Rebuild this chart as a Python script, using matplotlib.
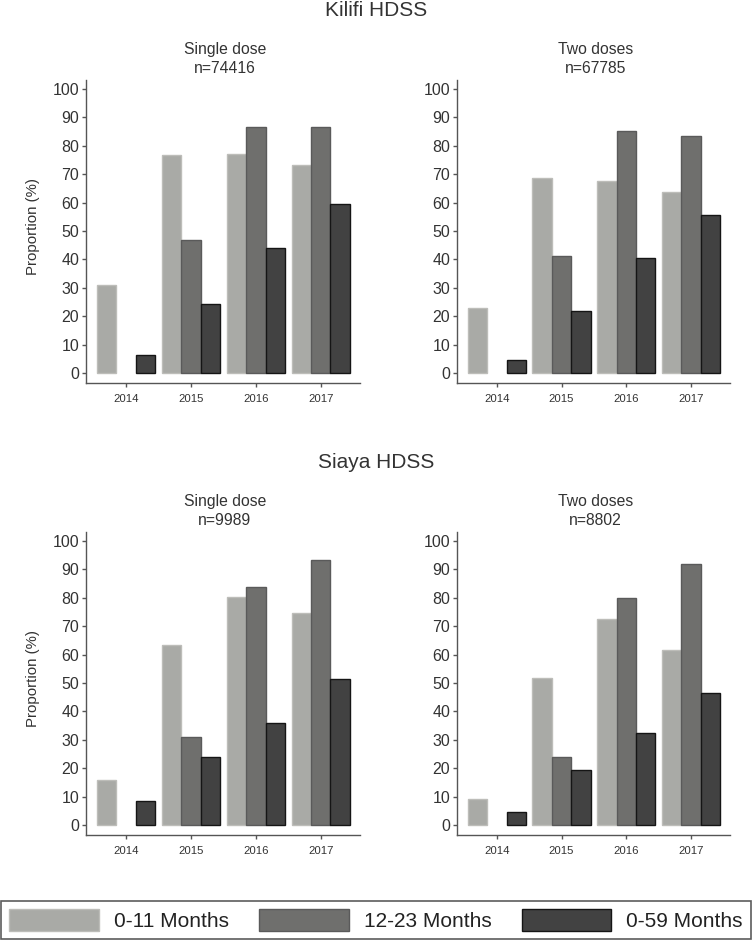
import matplotlib
matplotlib.use("Agg")
import matplotlib.pyplot as plt
import numpy as np
from matplotlib.patches import Patch

plt.rcParams['font.family'] = ['Liberation Sans', 'DejaVu Sans']

years = ["2014", "2015", "2016", "2017"]
groups = ["0-11 Months", "12-23 Months", "0-59 Months"]

# Kilifi HDSS
kilifi_single_0_11 = [31.1, 76.9, 77.3, 73.4]
kilifi_single_12_23 = [np.nan, 46.8, 86.6, 86.5]
kilifi_single_0_59 = [6.3, 24.4, 43.9, 59.7]

kilifi_two_0_11 = [23.0, 68.7, 67.6, 63.7]
kilifi_two_12_23 = [np.nan, 41.3, 85.4, 83.6]
kilifi_two_0_59 = [4.7, 21.7, 40.4, 55.8]

# Siaya HDSS
siaya_single_0_11 = [15.9, 63.5, 80.4, 74.7]
siaya_single_12_23 = [np.nan, 31.0, 84.0, 93.4]
siaya_single_0_59 = [8.4, 23.9, 35.8, 51.5]

siaya_two_0_11 = [9.1, 51.9, 72.4, 61.6]
siaya_two_12_23 = [np.nan, 24.1, 80.0, 92.0]
siaya_two_0_59 = [4.6, 19.3, 32.3, 46.5]

site_titles = ["Kilifi HDSS", "Siaya HDSS"]
panel_titles = ["Single dose\nn=74416", "Two doses\nn=67785",
                "Single dose\nn=9989", "Two doses\nn=8802"]
yticks = [0, 10, 20, 30, 40, 50, 60, 70, 80, 90, 100]

panels = [
    (kilifi_single_0_11, kilifi_single_12_23, kilifi_single_0_59),
    (kilifi_two_0_11, kilifi_two_12_23, kilifi_two_0_59),
    (siaya_single_0_11, siaya_single_12_23, siaya_single_0_59),
    (siaya_two_0_11, siaya_two_12_23, siaya_two_0_59),
]

face = ["#a9aaa6", "#6f6f6d", "#424242"]
edge = ["#bdbdb9", "#5a5a5a", "#151515"]
txt = "#333333"
spine_c = "#555555"

W, H = 752, 946
fig = plt.figure(figsize=(W / 100, H / 100), dpi=100)

def px_axes(x0, y0, x1, y1):
    return fig.add_axes([x0 / W, 1 - y1 / H, (x1 - x0) / W, (y1 - y0) / H])

boxes = [(86, 80, 360, 383), (457, 80, 730, 383),
         (86, 532, 360, 835), (457, 532, 730, 835)]

x = np.arange(len(years))
bw = 0.3
for i, (box, data) in enumerate(zip(boxes, panels)):
    ax = px_axes(*box)
    for k, vals in enumerate(data):
        ax.bar(x + (k - 1) * bw, vals, width=bw, color=face[k],
               edgecolor=edge[k], linewidth=1.0, label=groups[k])
    ax.set_xlim(-0.617, 3.605)
    ax.set_ylim(-3.5, 103.2)
    ax.set_yticks(yticks)
    ax.set_xticks(x)
    ax.set_xticklabels(years)
    ax.tick_params(axis='y', labelsize=11.5, colors=spine_c, labelcolor=txt,
                   length=3, width=1, pad=2)
    ax.tick_params(axis='x', labelsize=8.2, colors=spine_c, labelcolor=txt,
                   length=3, width=1, pad=5)
    for s in ['top', 'right']:
        ax.spines[s].set_visible(False)
    for s in ['left', 'bottom']:
        ax.spines[s].set_color(spine_c)
        ax.spines[s].set_linewidth(1.0)
    cx = (box[0] + box[2]) / 2 + 2
    fig.text(cx / W, 1 - (box[1] - 21) / H, panel_titles[i], ha='center',
             va='center', fontsize=11.3, color=txt, linespacing=1.35)
    if i % 2 == 0:
        fig.text(33 / W, 1 - ((box[1] + box[3]) / 2 - 5) / H, "Proportion (%)",
                 rotation=90, ha='center', va='center', fontsize=10.8, color=txt)

fig.text(376 / W, 1 - 11 / H, site_titles[0], ha='center', va='center',
         fontsize=15, color=txt)
fig.text(376 / W, 1 - 462 / H, site_titles[1], ha='center', va='center',
         fontsize=15, color=txt)

handles = [Patch(facecolor=face[k], edgecolor=edge[k], linewidth=1.0,
                 label=groups[k]) for k in range(3)]
leg = fig.legend(handles=handles, loc='center', ncol=3,
                 bbox_to_anchor=(376 / W, 1 - 920 / H),
                 fontsize=15, frameon=True, fancybox=False,
                 handlelength=4.3, handleheight=1.2, columnspacing=1.45,
                 handletextpad=0.72, borderpad=0.4, borderaxespad=0.0)
leg.get_frame().set_edgecolor("#333333")
leg.get_frame().set_linewidth(1.2)
for t in leg.get_texts():
    t.set_color("#222222")

fig.savefig("out.png", dpi=100, facecolor="white")
